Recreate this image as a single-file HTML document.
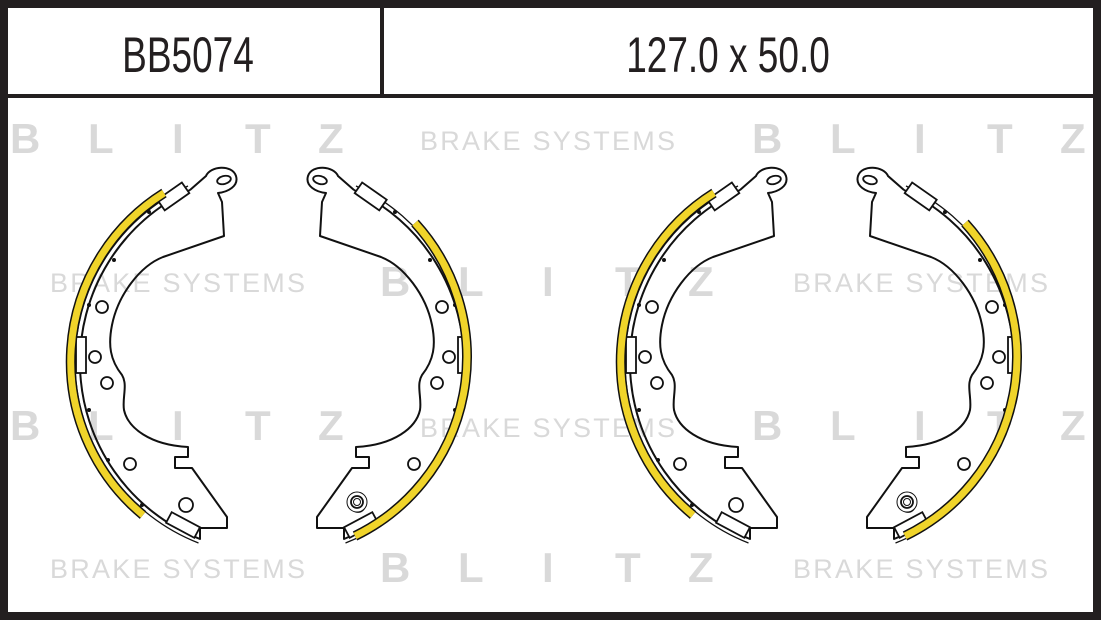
<!DOCTYPE html>
<html><head><meta charset="utf-8"><style>
html,body{margin:0;padding:0;background:#fff}
svg{display:block}
</style></head><body>
<svg width="1101" height="620" viewBox="0 0 1101 620" xmlns="http://www.w3.org/2000/svg">
<rect width="1101" height="620" fill="#fff"/>
<g fill="#d9d9d9" font-family="Liberation Sans, sans-serif">
  <g font-weight="bold" font-size="42">
    <text x="10" y="153">B</text><text x="88" y="153">L</text><text x="172" y="153">I</text><text x="245" y="153">T</text><text x="318" y="153">Z</text>
    <text x="752" y="153">B</text><text x="830" y="153">L</text><text x="914" y="153">I</text><text x="987" y="153">T</text><text x="1060" y="153">Z</text>
    <text x="380" y="296">B</text><text x="458" y="296">L</text><text x="542" y="296">I</text><text x="615" y="296">T</text><text x="688" y="296">Z</text>
    <text x="10" y="440">B</text><text x="88" y="440">L</text><text x="172" y="440">I</text><text x="245" y="440">T</text><text x="318" y="440">Z</text>
    <text x="752" y="440">B</text><text x="830" y="440">L</text><text x="914" y="440">I</text><text x="987" y="440">T</text><text x="1060" y="440">Z</text>
    <text x="380" y="582">B</text><text x="458" y="582">L</text><text x="542" y="582">I</text><text x="615" y="582">T</text><text x="688" y="582">Z</text>
  </g>
  <g font-size="27">
    <text x="420" y="150" textLength="255" lengthAdjust="spacing">BRAKE SYSTEMS</text>
    <text x="50" y="292" textLength="255" lengthAdjust="spacing">BRAKE SYSTEMS</text>
    <text x="793" y="292" textLength="255" lengthAdjust="spacing">BRAKE SYSTEMS</text>
    <text x="420" y="437" textLength="255" lengthAdjust="spacing">BRAKE SYSTEMS</text>
    <text x="50" y="578" textLength="255" lengthAdjust="spacing">BRAKE SYSTEMS</text>
    <text x="793" y="578" textLength="255" lengthAdjust="spacing">BRAKE SYSTEMS</text>
  </g>
</g>

<defs>
  <g id="web">
    <path d="M188,186 A194 194 0 0 0 198.5,543" fill="none" stroke="#111" stroke-width="1.3"/>
    <path d="M190,190 L206,176 C210,166 232,164 236,176 C239,186 228,192 218,193 L222,202 L224,236 L163,257 C140,266 118,295 112,325 C108,345 110,360 122,375 C128,385 122,398 124,410 C128,428 150,445 188,447 L188,457 L175,457 L175,468 L192,468 L227,517 L227,528 L200,528 L200,539 A190 190 0 0 1 190,190" fill="none" stroke="#111" stroke-width="2" stroke-linejoin="round"/>
    <ellipse cx="224" cy="180" rx="7" ry="4" fill="none" stroke="#111" stroke-width="1.8" transform="rotate(-15 224 180)"/>
    <rect x="158" y="190" width="30" height="13" fill="#fff" stroke="#111" stroke-width="1.8" transform="rotate(-35 173 196)"/>
    <rect x="76" y="337" width="10" height="36" fill="#fff" stroke="#111" stroke-width="1.8"/>
    <rect x="167" y="519" width="32" height="12" fill="#fff" stroke="#111" stroke-width="1.8" transform="rotate(28 183 525)"/>
    <g fill="#fff" stroke="#111" stroke-width="1.8">
      <circle cx="102" cy="307" r="6"/><circle cx="95" cy="357" r="6"/><circle cx="107" cy="383" r="6"/>
      <circle cx="130" cy="464" r="6"/><circle cx="186" cy="505" r="7"/>
    </g>
    <g fill="#111">
      <circle cx="149" cy="212" r="2"/><circle cx="114" cy="260" r="2"/><circle cx="89" cy="305" r="2"/>
      <circle cx="89" cy="410" r="2"/><circle cx="108" cy="460" r="2"/><circle cx="142" cy="505" r="2"/>
    </g>
  </g>
  <g id="pair">
    <use href="#web"/>
    <path d="M164,193 A199 199 0 0 0 143,515" fill="none" stroke="#111" stroke-width="10"/>
    <path d="M164,193 A199 199 0 0 0 143,515" fill="none" stroke="#f0d42a" stroke-width="7"/>
    <g transform="translate(544,0) scale(-1,1)">
      <use href="#web"/>
    </g>
    <path d="M415,223 A199 199 0 0 1 355,536" fill="none" stroke="#111" stroke-width="10"/>
    <path d="M415,223 A199 199 0 0 1 355,536" fill="none" stroke="#f0d42a" stroke-width="7"/>
    <circle cx="357" cy="502" r="10" fill="#fff" stroke="#111" stroke-width="1"/>
    <circle cx="357" cy="502" r="6" fill="#fff" stroke="#111" stroke-width="1.8"/>
    <circle cx="357" cy="502" r="3.5" fill="none" stroke="#111" stroke-width="1"/>
  </g>
</defs>
<use href="#pair"/>
<use href="#pair" transform="translate(550,0)"/>

<rect x="4" y="4" width="1093" height="612" fill="none" stroke="#231f20" stroke-width="8"/>
<rect x="0" y="94" width="1101" height="4" fill="#231f20"/>
<rect x="380" y="0" width="4" height="96" fill="#231f20"/>
<g font-family="Liberation Sans, sans-serif" fill="#231f20" font-size="50">
  <text x="0" y="0" transform="translate(188,72) scale(0.74,1)" text-anchor="middle">BB5074</text>
  <text x="0" y="0" transform="translate(728,72) scale(0.74,1)" text-anchor="middle">127.0 x 50.0</text>
</g>
</svg>
</body></html>
